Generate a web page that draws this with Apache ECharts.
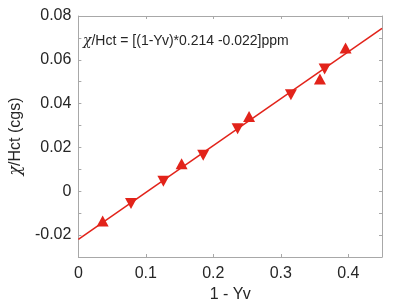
<!DOCTYPE html>
<html><head><meta charset="utf-8">
<script src="https://cdn.jsdelivr.net/npm/echarts@6/dist/echarts.min.js"></script>
<style>html,body{margin:0;padding:0;background:#fff}#c{width:400px;height:308px}</style>
</head><body><div id="c"></div>
<script>
const xTicks = [0, 0.1, 0.2, 0.3, 0.4];
const yTicks = [-0.02, 0, 0.02, 0.04, 0.06, 0.08];
const upX = [0.036, 0.153, 0.253, 0.358, 0.396];
const upY = [-0.0136, 0.0126, 0.0341, 0.0513, 0.0654];
const downX = [0.078, 0.126, 0.185, 0.236, 0.315, 0.365];
const downY = [-0.0056, 0.0046, 0.0164, 0.0285, 0.0441, 0.0558];
const fitX = [0, 0.45];
const fitY = [-0.022, 0.0743];
const annotation = '/Hct = [(1-Yv)*0.214 -0.022]ppm';

const red = '#e2231a';
const axisCol = '#a8a8a8';
const txt = '#262626';
const font = 'Liberation Sans, Arial, Helvetica, sans-serif';
const zip = (a, b) => a.map((v, i) => [v, b[i]]);

const chart = echarts.init(document.getElementById('c'), null, {renderer: 'canvas'});
const baseAxis = {
  axisLine: {show: true, onZero: false, lineStyle: {color: axisCol, width: 1}},
  axisTick: {show: true, inside: true, length: 3, lineStyle: {color: axisCol}},
  splitLine: {show: false},
};
const yTickInt = (i, v) => yTicks.some(t => Math.abs(t - v) < 1e-9);
chart.setOption({
  animation: false,
  grid: {left: 76, right: 18, top: 16, bottom: 51, containLabel: false},
  xAxis: [
    Object.assign({}, baseAxis, {
      type: 'value', min: 0, max: 0.45, interval: 0.1, position: 'bottom',
      name: '1 - Yv', nameLocation: 'middle', nameGap: 28,
      nameTextStyle: {color: txt, fontSize: 16, fontFamily: font},
      axisLabel: {color: txt, fontSize: 16, fontFamily: font, margin: 9,
        formatter: v => xTicks.some(t => Math.abs(t - v) < 1e-9) ? String(+v.toFixed(2)) : ''}
    }),
    Object.assign({}, baseAxis, {
      type: 'value', min: 0, max: 0.45, interval: 0.1, position: 'top',
      axisLabel: {show: false}
    })
  ],
  yAxis: [
    Object.assign({}, baseAxis, {
      type: 'value', min: -0.03, max: 0.08, interval: 0.01, position: 'left',
      name: '{c|χ}/Hct (cgs)', nameLocation: 'middle', nameGap: 51,
      nameTextStyle: {color: txt, fontSize: 16, fontFamily: font,
        rich: {c: {fontFamily: 'DejaVu Serif, serif', fontStyle: 'italic', fontSize: 16, color: txt}}},
      axisTick: {show: true, inside: true, length: 3, lineStyle: {color: axisCol}, interval: yTickInt},
      axisLabel: {color: txt, fontSize: 16, fontFamily: font, margin: 7,
        formatter: v => yTicks.some(t => Math.abs(t - v) < 1e-9) ? String(+v.toFixed(2)) : ''}
    }),
    Object.assign({}, baseAxis, {
      type: 'value', min: -0.03, max: 0.08, interval: 0.01, position: 'right',
      axisTick: {show: true, inside: true, length: 3, lineStyle: {color: axisCol}, interval: yTickInt},
      axisLabel: {show: false}
    })
  ],
  series: [
    {type: 'line', data: zip(fitX, fitY), showSymbol: false, symbol: 'none',
      lineStyle: {color: red, width: 1.5}, z: 2},
    {type: 'scatter', data: zip(upX, upY), symbol: 'triangle', symbolSize: [12, 11],
      itemStyle: {color: red, opacity: 1}, z: 3},
    {type: 'scatter', data: zip(downX, downY), symbol: 'triangle', symbolRotate: 180, symbolSize: [12, 11],
      itemStyle: {color: red, opacity: 1}, z: 3}
  ],
  graphic: [{
    type: 'text', left: 83, top: 34,
    style: {
      text: '{c|χ}' + annotation,
      font: '14px ' + font, fill: txt,
      rich: {c: {fontFamily: 'DejaVu Serif, serif', fontStyle: 'italic', fontSize: 14, fill: txt}}
    }
  }]
});
</script></body></html>
